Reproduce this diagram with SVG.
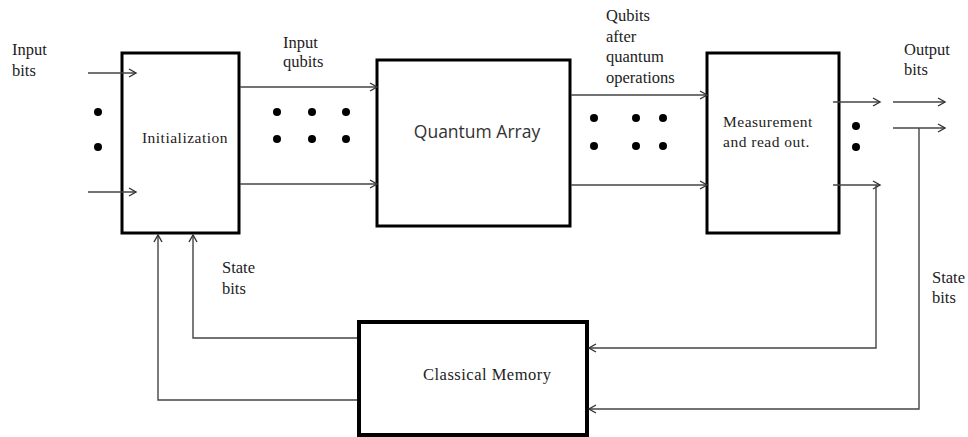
<svg xmlns="http://www.w3.org/2000/svg" width="968" height="437" viewBox="0 0 968 437">
  <style>
    .box { fill: #fff; stroke: #000; stroke-width: 3; }
    .thick { stroke-width: 4; }
    .wire { fill: none; stroke: #444; stroke-width: 1.4; }
    .lbl { font-family: "Liberation Serif", "Times New Roman", serif; font-size: 16.5px; fill: #222; }
    .inner { font-family: "Liberation Serif", "Times New Roman", serif; font-size: 15.5px; fill: #222; letter-spacing: 0.5px; }
    .sans { font-family: "Open Sans", "Liberation Sans", sans-serif; font-size: 17.5px; fill: #333; }
    .dot { fill: #000; }
  </style>
  <defs>
    <marker id="arr" markerUnits="userSpaceOnUse" markerWidth="12" markerHeight="12" viewBox="0 0 12 12" refX="10" refY="6" orient="auto">
      <path d="M3,2 L10,6 L3,10" fill="none" stroke="#333" stroke-width="1.4"/>
    </marker>
  </defs>

  <rect width="968" height="437" fill="#fff"/>

  <g id="init">
    <rect class="box" x="122" y="53" width="117" height="180"/>
    <text class="inner" x="185" y="143" text-anchor="middle">Initialization</text>
  </g>

  <g id="quantum-array">
    <rect class="box" x="377" y="60" width="193" height="166"/>
    <text class="sans" x="477" y="138" text-anchor="middle">Quantum Array</text>
  </g>

  <g id="measurement">
    <rect class="box" x="707" y="53" width="132" height="180"/>
    <text class="inner" x="723" y="127">Measurement</text>
    <text class="inner" x="723" y="147">and read out.</text>
  </g>

  <g id="classical-memory">
    <rect class="box thick" x="359" y="322" width="228" height="113"/>
    <text class="inner" x="423" y="380" style="font-size:16.5px">Classical Memory</text>
  </g>

  <!-- connectors, drawn over the boxes so the arrow tips reach inside -->
  <g id="connectors">
    <!-- input bits into initialization -->
    <line class="wire" x1="88" y1="73" x2="136" y2="73" marker-end="url(#arr)"/>
    <line class="wire" x1="88" y1="192" x2="136" y2="192" marker-end="url(#arr)"/>
    <!-- input qubits -->
    <line class="wire" x1="240" y1="87" x2="377" y2="87" marker-end="url(#arr)"/>
    <line class="wire" x1="240" y1="184" x2="377" y2="184" marker-end="url(#arr)"/>
    <!-- qubits after quantum operations -->
    <line class="wire" x1="571" y1="95" x2="707" y2="95" marker-end="url(#arr)"/>
    <line class="wire" x1="571" y1="185" x2="707" y2="185" marker-end="url(#arr)"/>
    <!-- measurement outputs -->
    <line class="wire" x1="833" y1="102" x2="880" y2="102" marker-end="url(#arr)"/>
    <line class="wire" x1="833" y1="185" x2="880" y2="185" marker-end="url(#arr)"/>
    <line class="wire" x1="893" y1="102" x2="945" y2="102" marker-end="url(#arr)"/>
    <line class="wire" x1="893" y1="128" x2="945" y2="128" marker-end="url(#arr)"/>
    <!-- state bits back into classical memory -->
    <polyline class="wire" points="876,185 876,348 589,348" marker-end="url(#arr)"/>
    <polyline class="wire" points="919,128 919,409 589,409" marker-end="url(#arr)"/>
    <!-- classical memory back to initialization -->
    <polyline class="wire" points="357,338 193,338 193,235" marker-end="url(#arr)"/>
    <polyline class="wire" points="357,400 158,400 158,235" marker-end="url(#arr)"/>
  </g>

  <!-- ellipsis dots -->
  <g id="dots">
    <circle class="dot" cx="98" cy="112" r="4"/>
    <circle class="dot" cx="98" cy="147" r="4"/>
    <circle class="dot" cx="277" cy="112" r="4"/>
    <circle class="dot" cx="312" cy="112" r="4"/>
    <circle class="dot" cx="346" cy="112" r="4"/>
    <circle class="dot" cx="277" cy="139" r="4"/>
    <circle class="dot" cx="312" cy="139" r="4"/>
    <circle class="dot" cx="346" cy="139" r="4"/>
    <circle class="dot" cx="594" cy="118" r="4"/>
    <circle class="dot" cx="636" cy="118" r="4"/>
    <circle class="dot" cx="663" cy="118" r="4"/>
    <circle class="dot" cx="594" cy="146" r="4"/>
    <circle class="dot" cx="636" cy="146" r="4"/>
    <circle class="dot" cx="663" cy="146" r="4"/>
    <circle class="dot" cx="856" cy="126" r="4"/>
    <circle class="dot" cx="856" cy="147" r="4"/>
  </g>

  <!-- labels -->
  <g id="labels">
    <text class="lbl" x="12" y="55">Input</text>
    <text class="lbl" x="12" y="76">bits</text>
    <text class="lbl" x="283" y="48">Input</text>
    <text class="lbl" x="283" y="67">qubits</text>
    <text class="lbl" x="606" y="21">Qubits</text>
    <text class="lbl" x="606" y="41.5">after</text>
    <text class="lbl" x="606" y="62">quantum</text>
    <text class="lbl" x="606" y="82.5">operations</text>
    <text class="lbl" x="904" y="55">Output</text>
    <text class="lbl" x="904" y="75">bits</text>
    <text class="lbl" x="222" y="273">State</text>
    <text class="lbl" x="222" y="294">bits</text>
    <text class="lbl" x="932" y="283">State</text>
    <text class="lbl" x="932" y="303">bits</text>
  </g>
</svg>
